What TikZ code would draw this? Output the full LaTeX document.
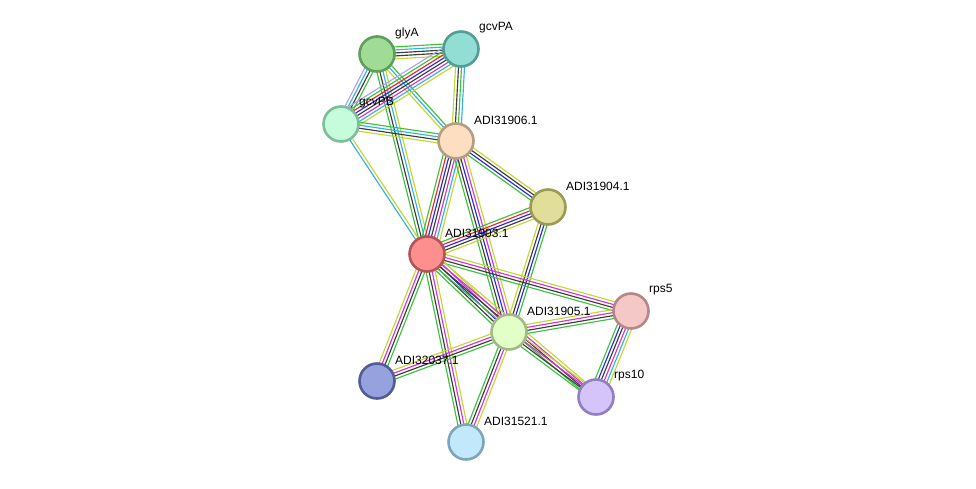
\documentclass[tikz,border=0pt]{standalone}
\usepackage{fontspec}
\setmainfont{Liberation Sans}
\usetikzlibrary{calc}
\pgfdeclarelayer{edges}
\pgfsetlayers{edges,main}

% evidence channel colours
\definecolor{ev-nb}{RGB}{60,195,60}     % neighborhood
\definecolor{ev-fu}{RGB}{240,40,40}     % gene fusion
\definecolor{ev-co}{RGB}{40,40,235}     % co-occurrence
\definecolor{ev-cx}{RGB}{60,60,60}      % co-expression
\definecolor{ev-ex}{RGB}{215,50,215}    % experiments
\definecolor{ev-db}{RGB}{50,180,220}    % databases
\definecolor{ev-tm}{RGB}{195,215,50}    % text mining
\definecolor{ev-ho}{RGB}{165,165,245}   % homology

\tikzset{
  protein/.style={circle, minimum size=35pt, inner sep=0pt, line width=2.6pt},
  plabel/.style={anchor=west, font=\fontsize{12}{14}\selectfont, inner sep=0pt},
  edgeline/.style={line width=1.15pt},
}
\def\linegap{3.0}

% a bundle of parallel coloured lines between two proteins
\newcommand\bundle[3]{%
  \foreach \c [count=\k] in {#3} {\xdef\bundlen{\k}}%
  \foreach \c [count=\k] in {#3} {%
    \pgfmathsetmacro\off{(\k-(\bundlen+1)/2)*\linegap}%
    \draw[edgeline,\c] ($(#1.center)!\off pt!90:(#2.center)$) -- ($(#2.center)!\off pt!-90:(#1.center)$);
  }%
}

\newcommand\protein[6]{%
  \definecolor{fill-#1}{RGB}{#4}%
  \definecolor{ring-#1}{RGB}{#5}%
  \node[protein, fill=fill-#1, draw=ring-#1] (#1) at (#2,#3) {};
  \node[plabel] (#1-lab) at ($(#1.center)+(18,-21)$) {#6};
}

\begin{document}
\begin{tikzpicture}[x=1pt,y=-1pt]
\useasboundingbox (0,0) rectangle (976,488);

\protein{glyA}{377}{54}{160,220,150}{95,160,88}{glyA}
\protein{gcvPA}{461}{49}{146,222,212}{82,158,150}{gcvPA}
\protein{gcvPB}{341}{124}{196,252,220}{125,190,152}{gcvPB}
\protein{p906}{456}{141}{254,222,192}{182,156,130}{ADI31906.1}
\protein{p904}{548}{207}{224,222,152}{155,155,85}{ADI31904.1}
\protein{p903}{427}{254}{253,143,143}{180,85,85}{ADI31903.1}
\protein{rps5}{631}{311}{245,200,200}{182,135,135}{rps5}
\protein{p905}{509}{332}{226,255,200}{162,186,135}{ADI31905.1}
\protein{p037}{377}{381}{150,162,222}{82,92,150}{ADI32037.1}
\protein{rps10}{596}{397}{212,196,250}{146,126,192}{rps10}
\protein{p521}{466}{442}{194,232,252}{126,166,186}{ADI31521.1}

\begin{pgfonlayer}{edges}
\bundle{glyA}{gcvPA}{ev-tm,ev-cx,ev-cx,ev-db,ev-nb}
\bundle{glyA}{gcvPB}{ev-ho,ev-db,ev-cx,ev-nb}
\bundle{glyA}{p906}{ev-tm,ev-db,ev-nb}
\bundle{glyA}{p903}{ev-nb,ev-cx,ev-db,ev-tm}
\bundle{gcvPA}{gcvPB}{ev-ho,ev-nb,ev-fu,ev-co,ev-cx,ev-ex,ev-db,ev-tm}
\bundle{gcvPA}{p906}{ev-tm,ev-cx,ev-nb,ev-db}
\bundle{gcvPB}{p906}{ev-tm,ev-cx,ev-db,ev-nb}
\bundle{gcvPB}{p903}{ev-db,ev-tm}
\bundle{p906}{p904}{ev-nb,ev-co,ev-cx,ev-tm}
\bundle{p906}{p903}{ev-nb,ev-fu,ev-co,ev-cx,ev-ex,ev-db,ev-tm}
\bundle{p906}{p905}{ev-nb,ev-cx,ev-co,ev-ex,ev-tm}
\bundle{p904}{p903}{ev-nb,ev-fu,ev-co,ev-cx,ev-tm}
\bundle{p904}{p905}{ev-tm,ev-cx,ev-co,ev-nb}
\bundle{p903}{p905}{ev-nb,ev-cx,ev-co,ev-ex,ev-tm}
\bundle{p903}{rps5}{ev-nb,ev-cx,ev-ex,ev-tm}
\bundle{p903}{rps10}{ev-nb,ev-cx,ev-ex,ev-tm}
\bundle{p903}{p037}{ev-tm,ev-ex,ev-cx,ev-nb}
\bundle{p903}{p521}{ev-nb,ev-cx,ev-ex,ev-tm}
\bundle{p905}{rps5}{ev-nb,ev-cx,ev-ex,ev-tm}
\bundle{p905}{rps10}{ev-nb,ev-cx,ev-ex,ev-tm}
\bundle{p905}{p037}{ev-tm,ev-ex,ev-cx,ev-nb}
\bundle{p905}{p521}{ev-nb,ev-cx,ev-ex,ev-tm}
\bundle{rps5}{rps10}{ev-nb,ev-co,ev-cx,ev-ex,ev-db,ev-tm}
\end{pgfonlayer}
\end{tikzpicture}
\end{document}
